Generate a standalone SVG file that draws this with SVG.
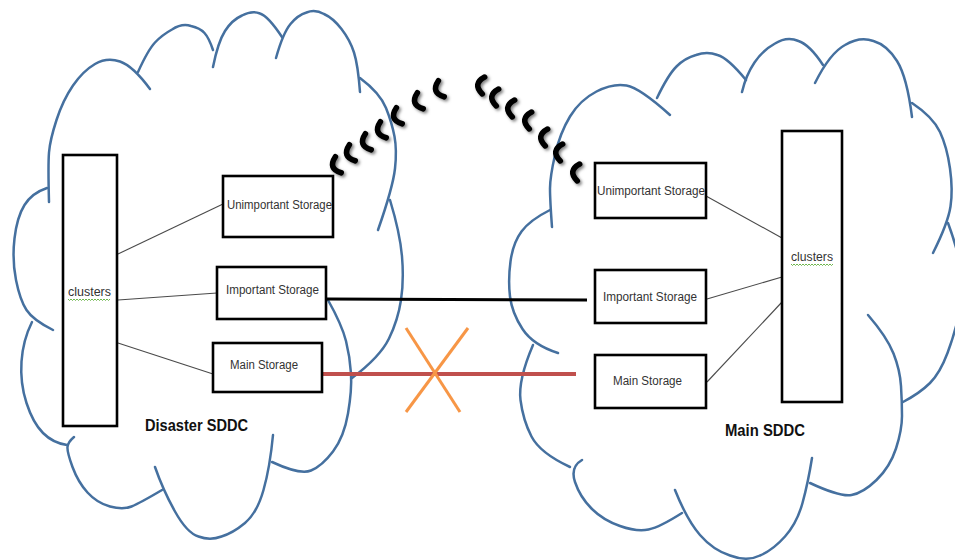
<svg xmlns="http://www.w3.org/2000/svg" xmlns:xlink="http://www.w3.org/1999/xlink" width="955" height="560" viewBox="0 0 955 560">
  <style>
    .cloud { fill: none; stroke: #45709f; stroke-width: 2.5; stroke-linecap: round; }
    .box { fill: #ffffff; stroke: #000000; stroke-width: 2.6; }
    .lbl { font-family: "Liberation Sans", Arial, sans-serif; font-size: 12px; fill: #333333; }
    .site { font-family: "Liberation Sans", Arial, sans-serif; font-size: 16px; font-weight: bold; fill: #111111; }
    .link { stroke: #4a4a4a; stroke-width: 1.1; fill: none; }
    .spell { fill: none; stroke: #5fae3a; stroke-width: 0.9; }
    .wave { fill: none; stroke: #000000; stroke-width: 5.6; stroke-linecap: round; }
  </style>
  <defs>
    <filter id="shadow" x="-80%" y="-50%" width="260%" height="200%">
      <feDropShadow dx="1.8" dy="1.8" stdDeviation="1.4" flood-color="#000000" flood-opacity="0.5"/>
    </filter>
    <path id="arcMark" class="wave" d="M3.5,-8.5 Q-8,0 3.5,8.5"/>
  </defs>

  <rect width="955" height="560" fill="#ffffff"/>

  <!-- Disaster site cloud -->
  <g id="cloud-disaster">
    <path class="cloud" d="M49,202 Q48,165 49,152.5 Q50,140 56.5,120 Q63,100 73,85.5 Q83,71 95,64 Q107,57 120,61.5 Q133,66 150,89"/>
    <path class="cloud" d="M138,72 Q148,50 155,42.5 Q162,35 172,29.5 Q182,23 191,26 Q200,28 204.5,33 Q209,38 213,50"/>
    <path class="cloud" d="M213,67 Q218,42 225,31 Q232,20 242,15.5 Q252,10 260,13.5 Q268,16 282,37"/>
    <path class="cloud" d="M276,58 Q283,33 290.5,24 Q298,15 306.5,12.5 Q315,9 324,14 Q333,18 341.5,29 Q350,40 354,52.5 Q358,65 360,92"/>
    <path class="cloud" d="M360,78 Q380,93 386,108 Q392,123 394.5,136.5 Q397,150 395,168.5 Q393,187 378,230"/>
    <path class="cloud" d="M390,200 Q400,233 402,256.5 Q404,280 401,300 Q398,320 389,338.5 Q380,357 352,378"/>
    <path class="cloud" d="M328,300 Q342,325 346,341 Q350,357 351,373.5 Q352,390 348,413.5 Q344,437 333,451.5 Q322,466 311,470.5 Q300,475 272,462"/>
    <path class="cloud" d="M273,435 Q270,467 263.5,490 Q257,513 245,523 Q233,533 221.5,536.5 Q210,541 198.5,536.5 Q187,533 175,511.5 Q163,490 155,467"/>
    <path class="cloud" d="M162,490 Q140,503 131.5,506.5 Q123,510 110,506.5 Q97,503 87.5,492.5 Q78,482 72.5,467 Q67,452 67.5,447 Q68,442 74,437"/>
    <path class="cloud" d="M32,322 Q23,340 21.5,361.5 Q20,383 26.5,403 Q33,423 43,433 Q53,443 67,445"/>
    <path class="cloud" d="M47,188 Q32,193 24.5,205 Q17,217 14.5,238.5 Q12,260 16,280 Q20,300 26.5,310 Q33,320 53,330"/>
  </g>

  <!-- Main site cloud -->
  <g id="cloud-main">
    <path class="cloud" d="M552,227 Q550,200 550,188.5 Q550,177 555,155 Q560,133 570,116.5 Q580,100 596.5,91.5 Q613,83 626.5,85.5 Q640,88 670,115"/>
    <path class="cloud" d="M657,98 Q668,75 676.5,66.5 Q685,58 696,55 Q707,51 717.5,55 Q728,58 746,80"/>
    <path class="cloud" d="M742,92 Q746,75 754.5,62.5 Q763,50 775,43.5 Q787,36 798.5,41 Q810,45 823,65"/>
    <path class="cloud" d="M815,83 Q830,53 845,45 Q860,36 873.5,41 Q887,45 897,61 Q907,77 912,117"/>
    <path class="cloud" d="M912,103 Q933,117 940,132 Q947,147 950,168.5 Q953,190 950.5,206.5 Q948,223 933,253"/>
    <path class="cloud" d="M948,223 Q958,250 961,270 Q964,290 959.5,311.5 Q955,333 947.5,353 Q940,373 930,383 Q920,393 903,402"/>
    <path class="cloud" d="M868,315 Q887,337 893.5,353.5 Q900,370 901,386 Q902,402 902,416 Q902,430 896,448.5 Q890,467 876.5,480 Q863,493 851.5,495 Q840,497 810,483"/>
    <path class="cloud" d="M812,458 Q808,483 802.5,503 Q797,523 785,536.5 Q773,550 760,555.5 Q747,562 730,555.5 Q713,550 700,535 Q687,520 675,490"/>
    <path class="cloud" d="M682,513 Q660,527 648.5,529.5 Q637,532 620,526 Q603,520 591.5,508.5 Q580,497 575,482 Q570,467 582,460"/>
    <path class="cloud" d="M570,467 Q540,453 531.5,436.5 Q523,420 520.5,400 Q518,380 533,345"/>
    <path class="cloud" d="M550,210 Q530,220 521.5,231.5 Q513,243 510.5,261.5 Q508,280 510,296.5 Q512,313 522.5,329 Q533,345 558,353"/>
  </g>

  <!-- Wireless replication signal between the sites -->
  <g id="signal" filter="url(#shadow)">
    <use xlink:href="#arcMark" transform="translate(335,166) rotate(-20)"/>
    <use xlink:href="#arcMark" transform="translate(349,154) rotate(-20)"/>
    <use xlink:href="#arcMark" transform="translate(365,143) rotate(-20)"/>
    <use xlink:href="#arcMark" transform="translate(380,131) rotate(-20)"/>
    <use xlink:href="#arcMark" transform="translate(396,117) rotate(-20)"/>
    <use xlink:href="#arcMark" transform="translate(417,102) rotate(-20)"/>
    <use xlink:href="#arcMark" transform="translate(438,90) rotate(-20)"/>
    <use xlink:href="#arcMark" transform="translate(480,85) rotate(8)"/>
    <use xlink:href="#arcMark" transform="translate(494,97) rotate(8)"/>
    <use xlink:href="#arcMark" transform="translate(510,108) rotate(8)"/>
    <use xlink:href="#arcMark" transform="translate(527,120) rotate(8)"/>
    <use xlink:href="#arcMark" transform="translate(543,137) rotate(8)"/>
    <use xlink:href="#arcMark" transform="translate(558,152) rotate(8)"/>
    <use xlink:href="#arcMark" transform="translate(575,172) rotate(8)"/>
  </g>

  <!-- Connectors -->
  <g id="connectors">
    <line class="link" x1="118" y1="254" x2="223" y2="204"/>
    <line class="link" x1="118" y1="300" x2="217" y2="293"/>
    <line class="link" x1="118" y1="343" x2="213" y2="374"/>
    <line class="link" x1="706" y1="196" x2="782" y2="238"/>
    <line class="link" x1="707" y1="299" x2="782" y2="277"/>
    <line class="link" x1="707" y1="382" x2="782" y2="302"/>
    <line x1="326" y1="299" x2="587" y2="300" stroke="#000000" stroke-width="3"/>
    <line x1="322" y1="374" x2="576" y2="374" stroke="#c0504d" stroke-width="4"/>
    <line x1="406" y1="328" x2="460" y2="412" stroke="#f79646" stroke-width="3"/>
    <line x1="468" y1="328" x2="406" y2="412" stroke="#f79646" stroke-width="3"/>
  </g>

  <!-- Disaster site nodes -->
  <g id="dr-clusters">
    <rect class="box" x="63" y="155" width="54" height="271"/>
    <text class="lbl" x="68" y="296" textLength="43" lengthAdjust="spacingAndGlyphs">clusters</text>
    <path class="spell" d="M68,299 l1.5,1.5 1.5,-1.5 1.5,1.5 1.5,-1.5 1.5,1.5 1.5,-1.5 1.5,1.5 1.5,-1.5 1.5,1.5 1.5,-1.5 1.5,1.5 1.5,-1.5 1.5,1.5 1.5,-1.5 1.5,1.5 1.5,-1.5 1.5,1.5 1.5,-1.5 1.5,1.5 1.5,-1.5 1.5,1.5 1.5,-1.5 1.5,1.5 1.5,-1.5 1.5,1.5 1.5,-1.5 1.5,1.5 1.5,-1.5"/>
  </g>
  <g id="dr-unimportant">
    <rect class="box" x="223" y="176" width="110" height="61"/>
    <text class="lbl" x="227" y="209" textLength="105" lengthAdjust="spacingAndGlyphs">Unimportant Storage</text>
  </g>
  <g id="dr-important">
    <rect class="box" x="217" y="267" width="109" height="52"/>
    <text class="lbl" x="226" y="294" textLength="93" lengthAdjust="spacingAndGlyphs">Important Storage</text>
  </g>
  <g id="dr-main">
    <rect class="box" x="213" y="343" width="109" height="49"/>
    <text class="lbl" x="230" y="369" textLength="68" lengthAdjust="spacingAndGlyphs">Main Storage</text>
  </g>
  <text id="dr-title" class="site" x="145" y="431" textLength="103" lengthAdjust="spacingAndGlyphs">Disaster SDDC</text>

  <!-- Main site nodes -->
  <g id="main-unimportant">
    <rect class="box" x="595" y="163" width="111" height="55"/>
    <text class="lbl" x="597" y="195" textLength="108" lengthAdjust="spacingAndGlyphs">Unimportant Storage</text>
  </g>
  <g id="main-important">
    <rect class="box" x="595" y="270" width="111" height="53"/>
    <text class="lbl" x="603" y="301" textLength="94" lengthAdjust="spacingAndGlyphs">Important Storage</text>
  </g>
  <g id="main-main">
    <rect class="box" x="595" y="355" width="111" height="53"/>
    <text class="lbl" x="613" y="385" textLength="69" lengthAdjust="spacingAndGlyphs">Main Storage</text>
  </g>
  <g id="main-clusters">
    <rect class="box" x="782" y="131" width="60" height="271"/>
    <text class="lbl" x="791" y="261" textLength="42" lengthAdjust="spacingAndGlyphs">clusters</text>
    <path class="spell" d="M791,264 l1.5,1.5 1.5,-1.5 1.5,1.5 1.5,-1.5 1.5,1.5 1.5,-1.5 1.5,1.5 1.5,-1.5 1.5,1.5 1.5,-1.5 1.5,1.5 1.5,-1.5 1.5,1.5 1.5,-1.5 1.5,1.5 1.5,-1.5 1.5,1.5 1.5,-1.5 1.5,1.5 1.5,-1.5 1.5,1.5 1.5,-1.5 1.5,1.5 1.5,-1.5 1.5,1.5 1.5,-1.5 1.5,1.5 1.5,-1.5"/>
  </g>
  <text id="main-title" class="site" x="725" y="436" textLength="80" lengthAdjust="spacingAndGlyphs">Main SDDC</text>
</svg>
